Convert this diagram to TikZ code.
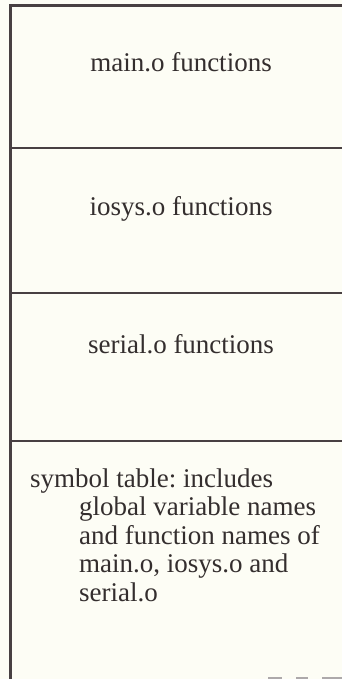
\documentclass[tikz,border=0pt]{standalone}
\usepackage{fontspec}
\setmainfont{Liberation Serif}
\frenchspacing

\definecolor{paper}{RGB}{253,253,245}
\definecolor{ink}{RGB}{72,64,66}
\definecolor{txt}{RGB}{52,46,46}

\begin{document}
\begin{tikzpicture}[x=1pt, y=1pt,
        rule/.style={ink, line width=2.8pt},
        segtext/.style={txt, font=\fontsize{27}{28.5}\selectfont, inner sep=0pt}]
            % page
            \fill[paper] (0, 0) rectangle (342, -679);
            \useasboundingbox (0, 0) rectangle (342, -679);

            % outer frame: left edge and top
            \draw[rule] (10.5, -679) -- (10.5, -5.3) -- (342, -5.3);
            % section borders
            \foreach \y in {148, 293, 441} {
                    \draw[rule] (10.5, -\y) -- (342, -\y);
                }
            % worn bottom edge
            \draw[ink!45, line width=1.2pt, dash pattern=on 14pt off 14pt on 12pt off 14pt on 20pt off 0pt]
                (268, -678) -- (342, -678);

            % object file sections
            \node[segtext, anchor=base] (main) at (181, -72) {main.o functions};
            \node[segtext, anchor=base] (iosys) at (181, -215) {iosys.o functions};
            \node[segtext, anchor=base] (serial) at (181, -353) {serial.o functions};

            % symbol table
            \node[segtext, anchor=base west] (sym0) at (30, -487) {symbol table: includes};
            \foreach \txt [count=\i] in {global variable names, and function names of, {main.o, iosys.o and}, serial.o} {
                    \node[segtext, anchor=base west] (sym\i) at (79, -487-28.5*\i) {\txt};
                }
        \end{tikzpicture}
\end{document}
